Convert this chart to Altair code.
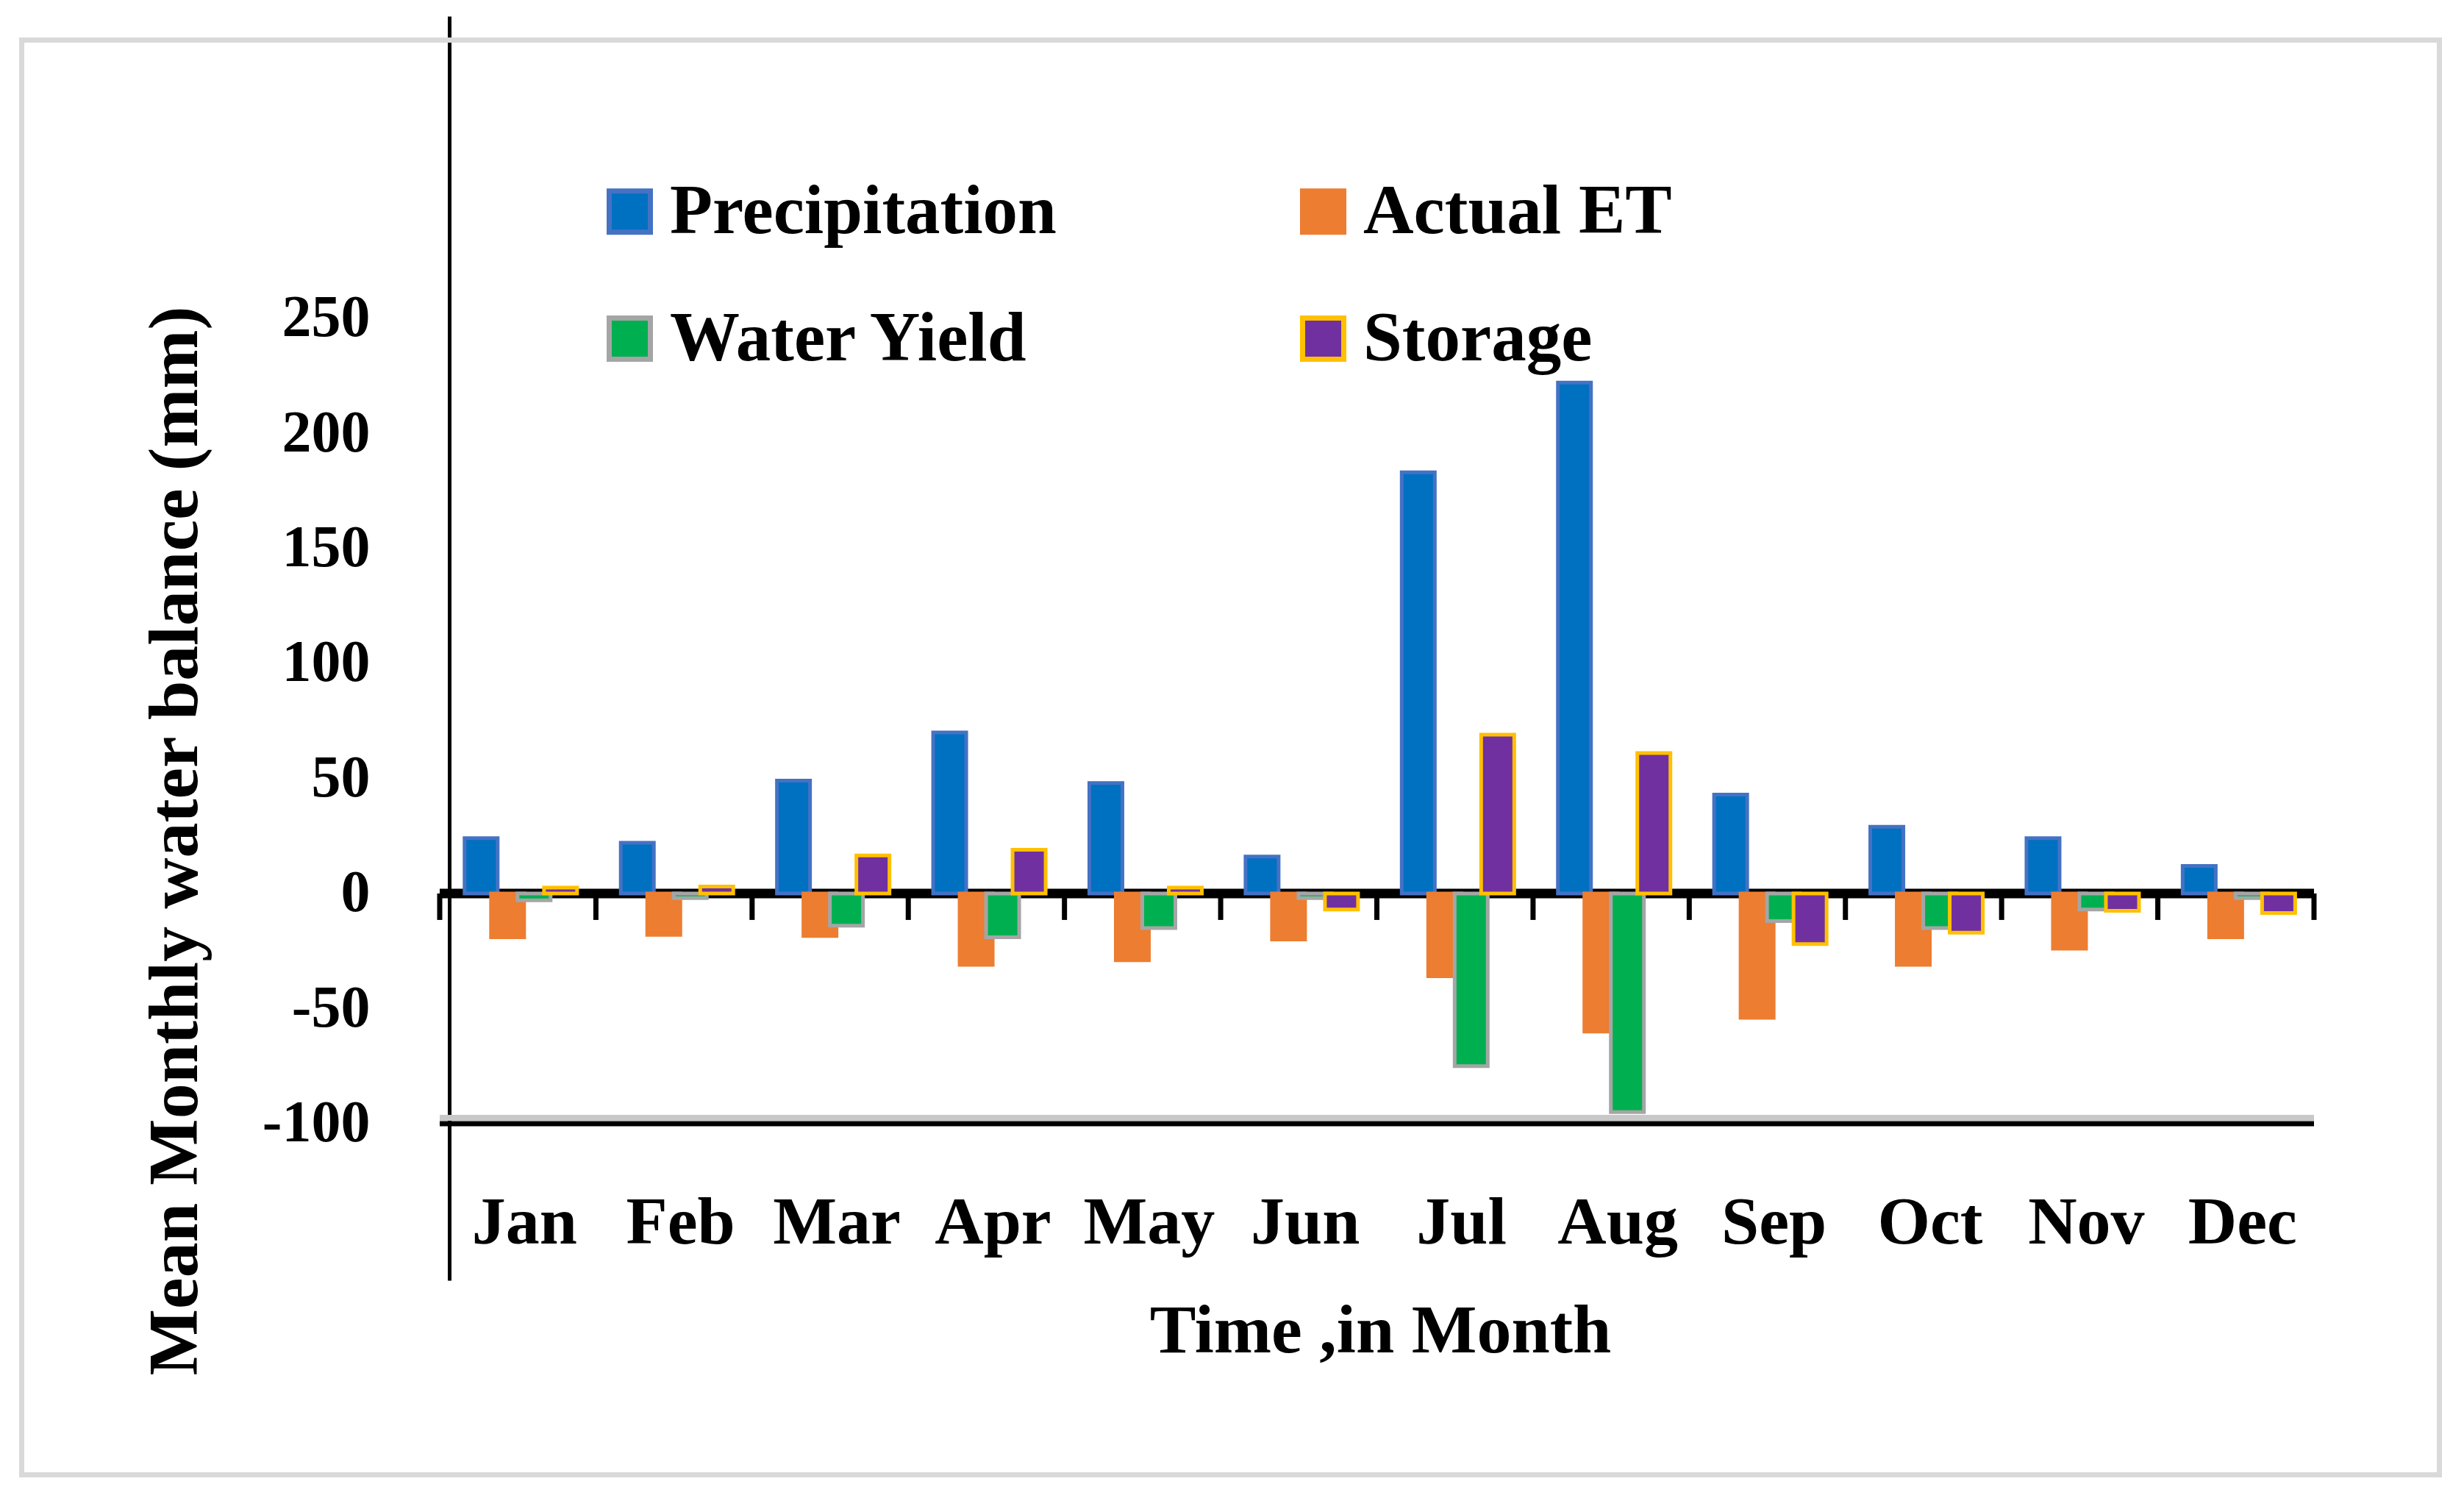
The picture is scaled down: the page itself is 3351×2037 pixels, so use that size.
import altair as alt
import pandas as pd

months = ["Jan", "Feb", "Mar", "Apr", "May", "Jun", "Jul", "Aug", "Sep", "Oct", "Nov", "Dec"]
series = ["Precipitation", "Actual ET", "Water Yield", "Storage"]
precipitation = [24, 22, 49, 70, 48, 16, 183, 222, 43, 29, 24, 12]
actual_et = [-19, -18, -18.5, -31, -29, -20, -36, -60, -54, -31, -24, -19]
water_yield = [-3, -2, -14, -19, -15, -2, -75, -95, -12, -15, -7, -2]
storage = [2.5, 3, 16.5, 19, 2.5, -7, 69, 61, -22, -17, -7.5, -8.5]
fill_colors = ["#0070C0", "#ED7D31", "#00B050", "#7030A0"]
stroke_colors = ["#4472C4", "#ED7D31", "#A5A5A5", "#FFC000"]
y_ticks = [-100, -50, 0, 50, 100, 150, 200, 250]

rows = []
for s, vals in zip(series, [precipitation, actual_et, water_yield, storage]):
    for m, v in zip(months, vals):
        rows.append({"Month": m, "Series": s, "Value": v})
df = pd.DataFrame(rows)

W, H = 2549, 1719
Y_DOMAIN = [-168.1, 381.2]
TICK_END = -11.5
FONT = "Liberation Serif"

x_scale = alt.Scale(domain=months, paddingInner=0, paddingOuter=0)
y_scale = alt.Scale(domain=Y_DOMAIN, nice=False, zero=False)

legend = alt.Legend(
    title=None, orient="none", legendX=211, legendY=218, columns=2, direction="horizontal",
    columnPadding=315, rowPadding=77, symbolType="square", symbolSize=3136,
    symbolStrokeWidth=7, labelFont=FONT, labelFontSize=95, labelFontWeight="bold",
    labelColor="black", labelLimit=0, labelOffset=7, padding=0,
)

x_axis = alt.Axis(
    title="Time ,in Month", domain=False, ticks=False, tickSize=0, bandPosition=0.5,
    labelFont=FONT, labelFontSize=92, labelFontWeight="bold", labelColor="black",
    labelAngle=0, labelAlign="center", labelBaseline="alphabetic", labelPadding=0,
    labelOffset=9, offset=-51,
    titleFont=FONT, titleFontSize=94, titleFontWeight="bold", titleColor="black",
    titleX=1279, titleY=148, titleBaseline="alphabetic", titleAlign="center",
)
y_axis = alt.Axis(
    title="Mean Monthly water balance (mm)", values=y_ticks, grid=False, ticks=False,
    domain=True, domainColor="black", domainWidth=5,
    labelExpr="toString(datum.value)",
    labelFont=FONT, labelFontSize=80, labelFontWeight="bold", labelColor="black",
    labelPadding=108, offset=-13,
    titleFont=FONT, titleFontSize=96, titleFontWeight="bold", titleColor="black",
    titleAngle=270, titleX=-344, titleY=1121, titleBaseline="alphabetic", titleAlign="center",
)

border = alt.Chart(alt.Data(values=[{"a": 1}])).mark_rect(
    fillOpacity=0, stroke="#D9D9D9", strokeWidth=7
).encode(
    x=alt.value(-568.5), x2=alt.value(2719.5), y=alt.value(32.5), y2=alt.value(1983.5)
)

zero_line = alt.Chart(pd.DataFrame({"Value": [0]})).mark_rule(
    color="black", strokeWidth=13
).encode(y=alt.Y("Value:Q", scale=y_scale))

floor_shadow = alt.Chart(pd.DataFrame({"Value": [-97.5]})).mark_rule(
    color="#C8C8C8", strokeWidth=8
).encode(y=alt.Y("Value:Q", scale=y_scale))

floor_line = alt.Chart(pd.DataFrame({"Value": [-100]})).mark_rule(
    color="black", strokeWidth=7
).encode(y=alt.Y("Value:Q", scale=y_scale))

ticks = alt.Chart(pd.DataFrame({"Month": months})).mark_rule(
    color="black", strokeWidth=7
).encode(
    x=alt.X("Month:N", scale=x_scale, sort=months, bandPosition=0),
    y=alt.datum(0), y2=alt.datum(TICK_END),
)
end_tick = alt.Chart(pd.DataFrame({"Month": [months[-1]]})).mark_rule(
    color="black", strokeWidth=7
).encode(
    x=alt.X("Month:N", scale=x_scale, sort=months, bandPosition=1),
    y=alt.datum(0), y2=alt.datum(TICK_END),
)

bars = alt.Chart(df).mark_bar(width=45, strokeWidth=5, strokeJoin="miter").encode(
    x=alt.X("Month:N", scale=x_scale, sort=months, axis=x_axis),
    xOffset=alt.XOffset(
        "Series:N", sort=series,
        scale=alt.Scale(domain=series, paddingOuter=0.95, paddingInner=0, align=0.56),
    ),
    y=alt.Y("Value:Q", scale=y_scale, axis=y_axis),
    y2=alt.datum(0),
    color=alt.Color("Series:N", scale=alt.Scale(domain=series, range=fill_colors), legend=legend),
    stroke=alt.Stroke("Series:N", scale=alt.Scale(domain=series, range=stroke_colors), legend=legend),
)

chart = alt.layer(
    border, floor_shadow, floor_line, zero_line, ticks, end_tick, bars
).properties(
    width=W, height=H,
    autosize=alt.AutoSizeParams(type="none"),
    padding={"left": 590, "top": 14, "right": 180, "bottom": 270},
    background="white",
).configure_view(stroke=None)

chart.save("out.html", embed_options={"renderer": "svg", "actions": False})
